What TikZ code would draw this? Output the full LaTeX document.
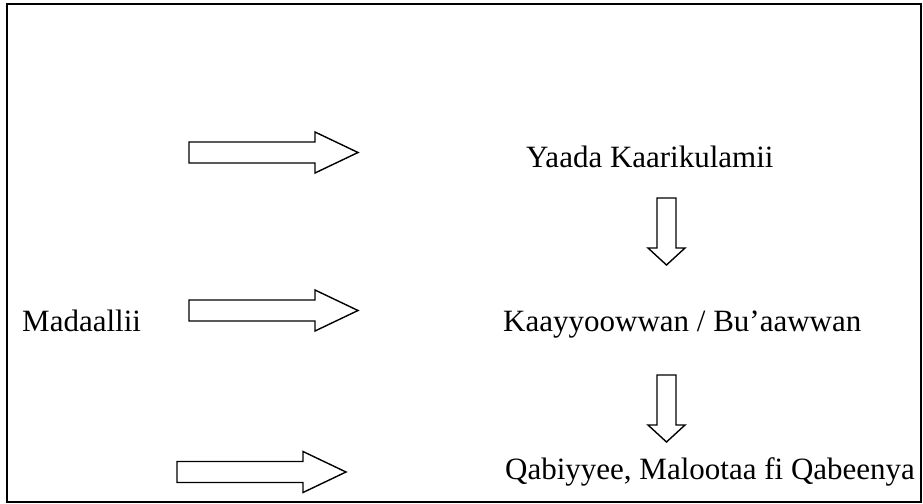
\documentclass[tikz,border=0pt]{standalone}
\usepackage{fontspec}
\setmainfont{Liberation Serif}

% block arrow pointing right, from its left end at (#1,#2)
\newcommand{\rblock}[2]{%
  \draw[blockline] (#1,#2-10.5) -- ++(126,0) -- ++(0,-10) -- ++(43,20.5)
    -- ++(-43,20.5) -- ++(0,-10) -- ++(-126,0) -- cycle;}
% block arrow pointing down, from the top of its shaft at (#1,#2)
\newcommand{\dblock}[3]{%
  \draw[blockline] (#1-9.5,#2) -- (#1-9.5,#3-17) -- (#1-18.5,#3-17) -- (#1,#3)
    -- (#1+18.5,#3-17) -- (#1+9.5,#3-17) -- (#1+9.5,#2) -- cycle;}

\begin{document}
\begin{tikzpicture}[x=1pt,y=-1pt,
  blockline/.style={line width=1.4pt, line join=miter},
  txt/.style={anchor=base west, inner sep=0pt, font=\fontsize{31}{36}\selectfont}]
\useasboundingbox (0,0) rectangle (923,503);

\draw[line width=1.6pt] (7,4) rectangle (921,502);

\node[txt] (yaada) at (526,167) {Yaada Kaarikulamii};
\node[txt] (kaayyoo) at (503,331) {Kaayyoowwan / Bu’aawwan};
\node[txt] (madaallii) at (22,331) {Madaallii};
\node[txt] (qabiyyee) at (505,479) {Qabiyyee, Malootaa fi Qabeenya};

\rblock{189}{152.5}
\rblock{189}{310.5}
\rblock{177}{472}

\dblock{666.5}{198}{265}
\dblock{666.5}{375}{442}

\end{tikzpicture}
\end{document}
